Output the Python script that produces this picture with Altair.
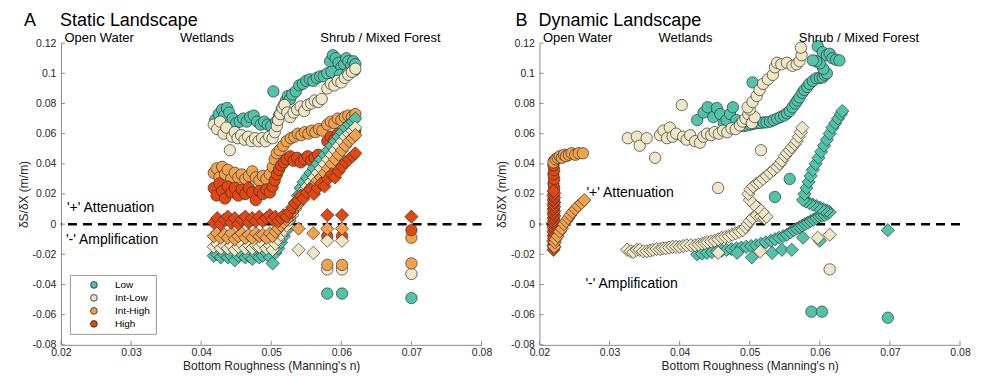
import altair as alt
import pandas as pd

FONT = "Liberation Sans"
SERIES = ["Low", "Int-Low", "Int-High", "High"]
COLORS = ["#50c4ab", "#efe7c6", "#f2a24c", "#e3470f"]
X_TICKS = [0.02, 0.03, 0.04, 0.05, 0.06, 0.07, 0.08]
Y_TICKS = [-0.08, -0.06, -0.04, -0.02, 0, 0.02, 0.04, 0.06, 0.08, 0.1, 0.12]
LAND_LABELS = ["Open Water", "Wetlands", "Shrub / Mixed Forest"]
LAND_X = [0.0205, 0.0370, 0.0570]

# ---------------- Panel A : Static Landscape ----------------
A_LOW_CIRC = [(0.0420,0.069),(0.0425,0.073),(0.0430,0.076),(0.0433,0.072),(0.0437,0.077),(0.0440,0.074),
    (0.0445,0.070),(0.0450,0.067),(0.0455,0.068),(0.0460,0.070),(0.0465,0.068),(0.0470,0.071),(0.0475,0.072),
    (0.0480,0.068),(0.0485,0.066),(0.0490,0.068),(0.0495,0.066),(0.0500,0.065),(0.0503,0.088),(0.0507,0.068),
    (0.0511,0.072),(0.0515,0.076),(0.0518,0.079),(0.0521,0.082),(0.0524,0.085),(0.0527,0.083),(0.0530,0.086),
    (0.0535,0.088),(0.0540,0.092),(0.0545,0.093),(0.0550,0.095),(0.0555,0.096),(0.0560,0.095),(0.0565,0.097),
    (0.0570,0.098),(0.0575,0.098),(0.0580,0.100),(0.0584,0.108),(0.0588,0.112),(0.0592,0.110),(0.0596,0.107),
    (0.0600,0.104),(0.0604,0.106),(0.0607,0.110),(0.0610,0.108),(0.0614,0.105),(0.0617,0.108),(0.0620,0.106),
    (0.0586,0.101),(0.0598,0.099),(0.0609,0.100),(0.0619,0.102),
    (0.0580,-0.046),(0.0601,-0.046),(0.0700,-0.049)]
A_INTLOW_CIRC = [(0.0418,0.066),(0.0423,0.063),(0.0427,0.068),(0.0432,0.060),(0.0436,0.064),(0.0441,0.049),
    (0.0444,0.058),(0.0448,0.061),(0.0452,0.057),(0.0457,0.059),(0.0462,0.056),(0.0467,0.058),(0.0472,0.055),
    (0.0477,0.057),(0.0482,0.055),(0.0487,0.057),(0.0492,0.055),(0.0497,0.058),(0.0502,0.057),(0.0505,0.061),
    (0.0508,0.065),(0.0510,0.069),(0.0513,0.073),(0.0516,0.077),(0.0519,0.079),(0.0523,0.074),(0.0527,0.071),
    (0.0532,0.074),(0.0537,0.076),(0.0542,0.078),(0.0547,0.075),(0.0552,0.079),(0.0557,0.080),(0.0562,0.082),
    (0.0567,0.081),(0.0572,0.083),(0.0580,0.090),(0.0585,0.093),(0.0590,0.092),(0.0595,0.095),(0.0600,0.094),
    (0.0605,0.097),(0.0610,0.099),(0.0615,0.101),(0.0620,0.103),
    (0.0580,-0.030),(0.0601,-0.030),(0.0700,-0.033)]
A_INTHIGH_CIRC = [(0.0418,0.034),(0.0422,0.037),(0.0426,0.031),(0.0430,0.038),(0.0434,0.033),(0.0438,0.036),
    (0.0443,0.030),(0.0448,0.034),(0.0453,0.031),(0.0458,0.033),(0.0463,0.030),(0.0468,0.032),(0.0473,0.035),
    (0.0478,0.031),(0.0483,0.029),(0.0488,0.032),(0.0493,0.030),(0.0498,0.033),(0.0502,0.038),(0.0505,0.043),
    (0.0508,0.047),(0.0512,0.049),(0.0517,0.052),(0.0522,0.055),(0.0528,0.057),(0.0533,0.058),(0.0538,0.060),
    (0.0543,0.059),(0.0548,0.061),(0.0553,0.060),(0.0558,0.062),(0.0563,0.061),(0.0568,0.063),(0.0573,0.062),
    (0.0580,0.066),(0.0585,0.068),(0.0590,0.067),(0.0595,0.070),(0.0600,0.069),(0.0605,0.071),(0.0610,0.072),
    (0.0615,0.071),(0.0620,0.073),
    (0.0580,-0.027),(0.0601,-0.027),(0.0700,-0.026),(0.0700,-0.009)]
A_HIGH_CIRC = [(0.0418,0.024),(0.0422,0.019),(0.0426,0.027),(0.0430,0.022),(0.0434,0.017),(0.0438,0.025),
    (0.0443,0.021),(0.0448,0.024),(0.0453,0.019),(0.0458,0.023),(0.0463,0.020),(0.0468,0.024),(0.0473,0.021),
    (0.0478,0.016),(0.0483,0.022),(0.0488,0.020),(0.0493,0.023),(0.0498,0.021),(0.0502,0.025),(0.0505,0.029),
    (0.0508,0.033),(0.0511,0.036),(0.0514,0.039),(0.0518,0.041),(0.0522,0.043),(0.0527,0.045),(0.0532,0.042),
    (0.0537,0.044),(0.0542,0.041),(0.0547,0.043),(0.0552,0.045),(0.0557,0.042),(0.0562,0.044),(0.0567,0.046),
    (0.0572,0.043),(0.0580,0.055),(0.0585,0.058),(0.0590,0.056),(0.0595,0.060),(0.0600,0.058),(0.0605,0.061),
    (0.0610,0.063),(0.0615,0.060),(0.0620,0.062),
    (0.0580,-0.008),(0.0601,-0.008),(0.0700,-0.004)]

A_LOW_DIAM = [(0.0418,-0.021),(0.0423,-0.020),(0.0428,-0.022),(0.0433,-0.020),(0.0438,-0.022),(0.0443,-0.021),
    (0.0448,-0.024),(0.0453,-0.021),(0.0458,-0.020),(0.0463,-0.022),(0.0468,-0.021),(0.0473,-0.023),(0.0478,-0.020),
    (0.0483,-0.022),(0.0488,-0.021),(0.0493,-0.019),(0.0498,-0.022),(0.0502,-0.026),(0.0506,-0.019),(0.0510,-0.016),
    (0.0514,-0.012),(0.0518,-0.008),
    (0.0522,-0.004),(0.0526,0.002),(0.0530,0.008),(0.0534,0.014),(0.0538,0.019),(0.0542,0.024),(0.0546,0.028),
    (0.0551,0.031),(0.0556,0.034),(0.0561,0.037),(0.0566,0.040),(0.0571,0.043),(0.0576,0.046),(0.0581,0.049),
    (0.0586,0.052),(0.0591,0.055),(0.0596,0.058),(0.0601,0.061),(0.0606,0.064),(0.0611,0.066),(0.0616,0.068),
    (0.0620,0.070)]
A_INTLOW_DIAM = [(0.0418,-0.015),(0.0423,-0.013),(0.0428,-0.016),(0.0433,-0.014),(0.0438,-0.016),(0.0443,-0.014),
    (0.0448,-0.017),(0.0453,-0.015),(0.0458,-0.013),(0.0463,-0.016),(0.0468,-0.014),(0.0473,-0.016),(0.0478,-0.014),
    (0.0483,-0.015),(0.0488,-0.013),(0.0493,-0.016),(0.0498,-0.014),(0.0502,-0.017),(0.0506,-0.013),(0.0510,-0.010),
    (0.0514,-0.007),(0.0518,-0.004),
    (0.0522,-0.001),(0.0526,0.003),(0.0530,0.006),(0.0534,0.010),(0.0538,0.014),(0.0542,0.018),(0.0546,0.022),
    (0.0551,0.025),(0.0556,0.028),(0.0561,0.031),(0.0566,0.034),(0.0571,0.037),(0.0576,0.040),(0.0581,0.043),
    (0.0586,0.046),(0.0591,0.049),(0.0596,0.052),(0.0601,0.055),(0.0606,0.058),(0.0611,0.060),(0.0616,0.062),
    (0.0620,0.064),
    (0.0539,-0.017),(0.0560,-0.019),(0.0580,-0.011),(0.0601,-0.011)]
A_INTHIGH_DIAM = [(0.0418,-0.008),(0.0423,-0.006),(0.0428,-0.009),(0.0433,-0.007),(0.0438,-0.009),(0.0443,-0.006),
    (0.0448,-0.010),(0.0453,-0.008),(0.0458,-0.006),(0.0463,-0.009),(0.0468,-0.007),(0.0473,-0.009),(0.0478,-0.006),
    (0.0483,-0.008),(0.0488,-0.007),(0.0493,-0.009),(0.0498,-0.006),(0.0502,-0.008),(0.0506,-0.005),(0.0510,-0.003),
    (0.0514,-0.001),(0.0518,0.001),
    (0.0522,0.003),(0.0526,0.005),(0.0530,0.008),(0.0534,0.011),(0.0538,0.013),(0.0542,0.016),(0.0546,0.019),
    (0.0551,0.021),(0.0556,0.024),(0.0561,0.026),(0.0566,0.029),(0.0571,0.031),(0.0576,0.034),(0.0581,0.037),
    (0.0586,0.040),(0.0591,0.043),(0.0596,0.046),(0.0601,0.049),(0.0606,0.052),(0.0611,0.055),(0.0616,0.057),
    (0.0620,0.059),
    (0.0539,-0.003),(0.0560,-0.006),(0.0580,-0.003),(0.0601,-0.003)]
A_HIGH_DIAM = [(0.0418,0.001),(0.0423,0.004),(0.0428,0.000),(0.0433,0.003),(0.0438,0.005),(0.0443,0.001),
    (0.0448,0.004),(0.0453,0.000),(0.0458,0.003),(0.0463,0.005),(0.0468,0.001),(0.0473,0.004),(0.0478,0.002),
    (0.0483,0.005),(0.0488,0.002),(0.0493,0.004),(0.0498,0.006),(0.0502,0.003),(0.0506,0.005),(0.0510,0.002),
    (0.0514,0.004),(0.0518,0.006),
    (0.0522,0.005),(0.0526,0.008),(0.0530,0.011),(0.0534,0.014),(0.0538,0.016),(0.0542,0.019),(0.0546,0.017),
    (0.0551,0.021),(0.0556,0.023),(0.0561,0.020),(0.0566,0.024),(0.0571,0.027),(0.0576,0.025),(0.0581,0.030),
    (0.0586,0.033),(0.0591,0.031),(0.0596,0.035),(0.0601,0.038),(0.0606,0.041),(0.0611,0.043),(0.0616,0.045),
    (0.0620,0.047),
    (0.0580,0.006),(0.0601,0.006),(0.0700,0.005)]

# ---------------- Panel B : Dynamic Landscape ----------------
B_LOW_CIRC = [(0.0425,0.069),(0.0434,0.074),(0.0440,0.0775),(0.0448,0.071),(0.0453,0.077),(0.0458,0.073),
    (0.0463,0.067),(0.0467,0.069),(0.0472,0.073),(0.0476,0.0775),(0.0481,0.069),(0.0486,0.066),(0.0491,0.065),
    (0.0496,0.0655),(0.0501,0.066),(0.0505,0.0665),(0.0510,0.067),(0.0515,0.067),(0.0520,0.0675),(0.0524,0.0675),
    (0.0529,0.068),(0.0534,0.069),(0.0539,0.070),(0.0544,0.071),(0.0549,0.072),(0.0553,0.0735),(0.0557,0.075),
    (0.0561,0.0775),(0.0565,0.080),(0.0568,0.082),(0.0571,0.084),(0.0575,0.087),(0.0578,0.089),(0.0582,0.091),
    (0.0585,0.093),(0.0590,0.095),(0.0595,0.0967),(0.0600,0.097),(0.0604,0.0973),(0.0607,0.099),(0.0610,0.100),
    (0.0605,0.103),(0.0600,0.1066),(0.0595,0.108),(0.0590,0.1086),(0.0597,0.118),(0.0604,0.114),(0.0610,0.112),
    (0.0614,0.113),(0.0618,0.110),(0.0623,0.109),(0.0628,0.1086),(0.0504,0.094),
    (0.0557,0.030),(0.0536,0.018),(0.0588,-0.058),(0.0603,-0.058),(0.0697,-0.062)]
B_INTLOW_CIRC = [(0.0326,0.057),(0.0339,0.058),(0.0343,0.052),(0.0353,0.057),(0.0365,0.044),(0.0372,0.059),
    (0.0377,0.062),(0.0382,0.057),(0.0386,0.064),(0.0390,0.058),(0.0395,0.060),(0.0403,0.079),(0.0405,0.058),
    (0.0410,0.056),(0.0415,0.059),(0.0422,0.055),(0.0429,0.054),(0.0434,0.058),(0.0439,0.060),(0.0445,0.059),
    (0.0450,0.061),(0.0456,0.060),(0.0462,0.062),(0.0468,0.061),(0.0474,0.0635),(0.0480,0.063),(0.0486,0.0655),
    (0.0490,0.068),(0.0494,0.070),(0.0498,0.073),(0.0503,0.067),(0.0507,0.071),(0.0500,0.076),(0.0497,0.0775),
    (0.0504,0.081),(0.0510,0.085),(0.0514,0.089),(0.0519,0.093),(0.0526,0.096),(0.0533,0.099),(0.0536,0.104),
    (0.0539,0.107),(0.0545,0.106),(0.0553,0.107),(0.0561,0.105),(0.0567,0.106),(0.0571,0.108),(0.0574,0.112),
    (0.0573,0.117),(0.0455,0.024),(0.0516,0.049),(0.0614,-0.030)]
B_INTHIGH_CIRC = [(0.0220,0.041),(0.0223,0.043),(0.0226,0.044),(0.0229,0.045),(0.0232,0.044),(0.0235,0.046),
    (0.0238,0.045),(0.0242,0.046),(0.0246,0.047),(0.0251,0.046),(0.0256,0.047),(0.0262,0.047)]
B_HIGH_CIRC = [(0.0221,0.024),(0.0220,0.027),(0.0221,0.030),(0.0220,0.033),(0.0221,0.036),(0.0220,0.039),
    (0.0221,0.042)]

B_LOW_DIAM = [(0.0425,-0.020),(0.0432,-0.0195),(0.0439,-0.019),(0.0446,-0.0185),(0.0453,-0.018),(0.0460,-0.0175),
    (0.0467,-0.017),(0.0474,-0.0165),(0.0481,-0.016),(0.0488,-0.0155),(0.0495,-0.015),(0.0502,-0.0145),
    (0.0509,-0.014),(0.0516,-0.013),(0.0523,-0.012),(0.0530,-0.011),(0.0536,-0.010),(0.0542,-0.009),(0.0548,-0.008),
    (0.0553,-0.007),(0.0558,-0.0055),(0.0563,-0.004),(0.0567,-0.003),(0.0571,-0.002),(0.0575,-0.001),(0.0579,0.000),
    (0.0583,0.001),(0.0587,0.002),(0.0591,0.003),(0.0595,0.004),(0.0599,0.005),(0.0603,0.0055),(0.0607,0.006),
    (0.0611,0.007),(0.0614,0.008),
    (0.0610,0.009),(0.0605,0.010),(0.0600,0.011),(0.0595,0.012),(0.0590,0.013),(0.0585,0.014),(0.0580,0.015),
    (0.0576,0.016),
    (0.0578,0.020),(0.0581,0.024),(0.0584,0.028),(0.0587,0.032),(0.0590,0.036),(0.0594,0.040),(0.0598,0.044),
    (0.0602,0.048),(0.0606,0.052),(0.0610,0.056),(0.0614,0.060),(0.0618,0.064),(0.0622,0.067),(0.0626,0.070),
    (0.0630,0.073),(0.0632,0.075),
    (0.0482,-0.019),(0.0503,-0.022),(0.0532,-0.019),(0.0546,-0.017),(0.0560,-0.017),(0.0576,-0.009),(0.0600,-0.011),
    (0.0697,-0.004)]
B_INTLOW_DIAM = [(0.0325,-0.017),(0.0330,-0.018),(0.0334,-0.0185),(0.0339,-0.017),(0.0343,-0.017),(0.0348,-0.018),
    (0.0353,-0.018),(0.0358,-0.0175),(0.0362,-0.017),(0.0367,-0.0165),(0.0372,-0.0165),(0.0376,-0.016),
    (0.0380,-0.016),(0.0385,-0.0155),(0.0390,-0.015),(0.0395,-0.015),(0.0400,-0.015),(0.0405,-0.0145),
    (0.0410,-0.014),(0.0416,-0.014),(0.0422,-0.014),(0.0427,-0.0135),(0.0432,-0.013),(0.0436,-0.0125),
    (0.0440,-0.012),(0.0445,-0.0115),(0.0450,-0.011),(0.0455,-0.010),(0.0460,-0.009),(0.0465,-0.0085),
    (0.0470,-0.008),(0.0475,-0.007),(0.0480,-0.006),(0.0485,-0.005),(0.0490,-0.004),(0.0494,-0.002),
    (0.0497,0.000),(0.0500,0.002),(0.0504,0.004),(0.0510,0.006),(0.0516,0.005),(0.0521,0.004),(0.0524,0.005),
    (0.0518,0.008),(0.0512,0.011),(0.0506,0.013),(0.0500,0.016),(0.0498,0.020),(0.0501,0.023),(0.0505,0.025),
    (0.0510,0.027),(0.0514,0.028),(0.0519,0.030),(0.0524,0.032),(0.0529,0.034),(0.0534,0.036),(0.0539,0.038),
    (0.0543,0.040),(0.0546,0.042),(0.0550,0.045),(0.0553,0.047),(0.0557,0.049),(0.0560,0.051),(0.0564,0.053),
    (0.0567,0.055),(0.0570,0.058),(0.0573,0.061),(0.0575,0.064),
    (0.0455,-0.019),(0.0515,-0.018),(0.0597,-0.009),(0.0614,-0.007)]
B_HIGH_DIAM = [(0.0220,-0.017),(0.0221,-0.0155),(0.0220,-0.014),(0.0221,-0.0125),(0.0220,-0.011),(0.0221,-0.0095),
    (0.0220,-0.008),(0.0221,-0.0065),(0.0220,-0.005),(0.0221,-0.0035),(0.0220,-0.002),(0.0221,-0.0005),
    (0.0220,0.001),(0.0221,0.0025),(0.0220,0.004),(0.0221,0.0055),(0.0220,0.007),(0.0221,0.0085),(0.0220,0.010),
    (0.0221,0.0115),(0.0220,0.013),(0.0221,0.0145),(0.0220,0.016),(0.0221,0.0175),(0.0220,0.019),(0.0221,0.0205),
    (0.0220,0.022)]
B_INTHIGH_DIAM = [(0.0221,-0.015),(0.0222,-0.012),(0.0223,-0.010),(0.0226,-0.008),(0.0229,-0.005),(0.0232,-0.003),
    (0.0235,0.000),(0.0238,0.002),(0.0241,0.004),(0.0244,0.006),(0.0247,0.008),(0.0251,0.010),(0.0255,0.012),
    (0.0260,0.014),(0.0264,0.016)]

W, H = 421, 302


def frame(tracks):
    rows = []
    for series, pts in tracks:
        for x, y in pts:
            rows.append({"series": series, "x": x, "y": y})
    return pd.DataFrame(rows)


def make_panel(circ, diam, letter, title, notes, legend):
    xs = alt.Scale(domain=[0.02, 0.08], nice=False, zero=False)
    ys = alt.Scale(domain=[-0.08, 0.12], nice=False, zero=False)
    xax = alt.Axis(values=X_TICKS, labelExpr="toString(datum.value)",
                   title="Bottom Roughness (Manning's n)")
    yax = alt.Axis(values=Y_TICKS, labelExpr="toString(datum.value)", title="δS/δX (m/m)")
    X = alt.X("x:Q", scale=xs, axis=xax)
    Y = alt.Y("y:Q", scale=ys, axis=yax)
    col = alt.Color("series:N", scale=alt.Scale(domain=SERIES, range=COLORS), legend=legend)

    zero = alt.Chart(pd.DataFrame({"y": [0]})).mark_rule(
        color="black", strokeWidth=2.5, strokeDash=[9, 6]).encode(y=Y)
    circles = alt.Chart(circ).mark_point(
        shape="circle", filled=True, size=130, stroke="#333333", strokeWidth=0.7, opacity=1
    ).encode(x=X, y=Y, color=col)
    diamonds = alt.Chart(diam).mark_point(
        shape="diamond", filled=True, size=175, stroke="#333333", strokeWidth=0.7, opacity=1
    ).encode(x=X, y=Y, color=col)
    xt = alt.Chart(pd.DataFrame({"x": X_TICKS})).mark_rule(color="#8c8c8c").encode(
        x=X, y=alt.value(H), y2=alt.value(H - 4))
    yt = alt.Chart(pd.DataFrame({"y": Y_TICKS})).mark_rule(color="#8c8c8c").encode(
        y=Y, x=alt.value(0), x2=alt.value(4))
    land = alt.Chart(pd.DataFrame({"x": LAND_X, "label": LAND_LABELS})).mark_text(
        align="left", baseline="middle", font=FONT, fontSize=13, color="black"
    ).encode(x=X, y=alt.value(-5), text="label:N")
    head = alt.Chart(pd.DataFrame({"t": [letter, title], "px": [letter[1], title[1]]})) if False else None
    t_letter = alt.Chart(pd.DataFrame({"t": [letter[0]]})).mark_text(
        align="left", baseline="alphabetic", font=FONT, fontSize=18, color="black"
    ).encode(x=alt.value(letter[1]), y=alt.value(-17), text="t:N")
    t_title = alt.Chart(pd.DataFrame({"t": [title]})).mark_text(
        align="left", baseline="alphabetic", font=FONT, fontSize=18, color="black"
    ).encode(x=alt.value(-1), y=alt.value(-17), text="t:N")
    layers = [zero, xt, yt, circles, diamonds, land, t_letter, t_title]
    for txt, px, py in notes:
        layers.append(alt.Chart(pd.DataFrame({"t": [txt]})).mark_text(
            align="left", baseline="middle", font=FONT, fontSize=14, color="black"
        ).encode(x=alt.value(px), y=alt.value(py), text="t:N"))
    return alt.layer(*layers).properties(width=W, height=H)


legendA = alt.Legend(
    orient="none", legendX=9, legendY=232, title=None, symbolType="circle", symbolSize=45,
    symbolStrokeColor="#222222", symbolStrokeWidth=0.8, labelFont=FONT, labelFontSize=10,
    labelColor="black", padding=5, symbolOffset=14, labelOffset=16, rowPadding=3,
    strokeColor="#999999", fillColor="white")

circA = frame([("Low", A_LOW_CIRC), ("Int-Low", A_INTLOW_CIRC), ("Int-High", A_INTHIGH_CIRC), ("High", A_HIGH_CIRC)])
diamA = frame([("Low", A_LOW_DIAM), ("Int-Low", A_INTLOW_DIAM), ("Int-High", A_INTHIGH_DIAM), ("High", A_HIGH_DIAM)])
circB = frame([("Low", B_LOW_CIRC), ("Int-Low", B_INTLOW_CIRC), ("High", B_HIGH_CIRC), ("Int-High", B_INTHIGH_CIRC)])
diamB = frame([("Low", B_LOW_DIAM), ("Int-Low", B_INTLOW_DIAM), ("High", B_HIGH_DIAM), ("Int-High", B_INTHIGH_DIAM)])

pA = make_panel(circA, diamA, ("A", -37), "Static Landscape",
                [("'+' Attenuation", 6, 165), ("'-' Amplification", 5, 197)], legendA)
pB = make_panel(circB, diamB, ("B", -24), "Dynamic Landscape",
                [("'+' Attenuation", 47, 150), ("'-' Amplification", 46, 241)], None)

chart = alt.hconcat(pA, pB, spacing=58, bounds="flush").resolve_scale(color="independent").properties(
    padding={"left": 9, "top": 4, "right": 5, "bottom": 5}
).configure_view(stroke=None).configure_axis(
    domainColor="#8c8c8c", domainWidth=1, ticks=False, tickSize=0, grid=False, labelFlush=False,
    labelFont=FONT, labelFontSize=10.5, labelColor="#262626",
    titleFont=FONT, titleFontSize=12, titleFontWeight="normal", titleColor="#262626"
).configure_axisX(labelPadding=3, titlePadding=2).configure_axisY(labelPadding=5, titlePadding=2)

chart.save("out.html", embed_options={"renderer": "svg", "actions": False})
